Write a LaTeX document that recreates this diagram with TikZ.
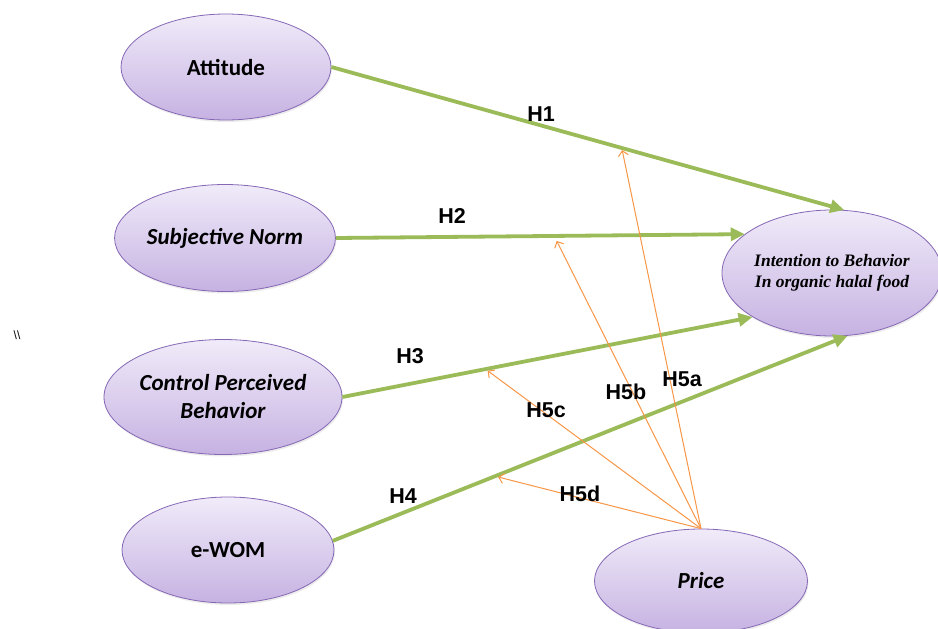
\documentclass[tikz,border=0pt]{standalone}
\usepackage{fontspec}
\setmainfont{Liberation Serif}
\newfontfamily\calib{Carlito}
\newfontfamily\arialf{Liberation Sans}
\usetikzlibrary{shapes.geometric,arrows.meta,shadows}
\definecolor{elltop}{HTML}{F0EBF9}
\definecolor{ellbot}{HTML}{C6B2E2}
\definecolor{ellline}{HTML}{8567B5}
\definecolor{grn}{HTML}{9BBB59}
\definecolor{org}{HTML}{F79646}
\tikzset{
  ell/.style={ellipse, draw=ellline, line width=0.8pt, top color=elltop, bottom color=ellbot,
    drop shadow={opacity=0.15, shadow xshift=1pt, shadow yshift=-2pt},
    inner sep=0pt, align=center, font=\calib\bfseries\fontsize{23}{27}\selectfont},
  garrow/.style={draw=grn, line width=3.8pt, -{Triangle[length=14pt,width=13pt]}},
  oarrow/.style={draw=org, line width=1pt, -{Straight Barb[length=5pt,width=10pt]}},
  hlab/.style={font=\arialf\bfseries\fontsize{21.5}{25}\selectfont, inner sep=0pt}
}
\begin{document}
\begin{tikzpicture}[x=1pt,y=-1pt]
\useasboundingbox (0,0) rectangle (938,629);
\node[ell, minimum width=210pt, minimum height=106pt] (att) at (226,67) {Attitude};
\node[ell, minimum width=214pt, minimum height=107pt] (sn) at (225,238) {\itshape Subjective Norm};
\node[ell, minimum width=238pt, minimum height=115pt] (cpb) at (223,397) {\itshape Control Perceived\\[1pt]\itshape Behavior};
\node[ell, minimum width=212pt, minimum height=106pt] (ewom) at (228,550) {e-WOM};
\node[ell, minimum width=212pt, minimum height=126pt, font=\rmfamily\bfseries\itshape\fontsize{17.5}{21}\selectfont] (itb) at (832,273) {Intention to Behavior\\In organic halal food};
\node[ell, minimum width=213pt, minimum height=104pt] (price) at (701,581) {\itshape Price};
\node[font=\arialf\fontsize{12}{14}\selectfont, inner sep=0pt] (bs) at (17,335) {\textbackslash\textbackslash};

\draw[garrow] (att.east) -- coordinate[pos=0.567] (t5a) (itb.79);
\draw[garrow] (sn.east) -- coordinate[pos=0.54] (t5b) (itb.156);
\draw[garrow] (cpb.east) -- coordinate[pos=0.354] (t5c) (itb.209);
\draw[garrow] (ewom.5) -- coordinate[pos=0.321] (t5d) (itb.284);

\draw[oarrow] (price.north) -- ([yshift=-2pt]t5a);
\draw[oarrow] (price.north) -- ([yshift=-5pt]t5b);
\draw[oarrow] (price.north) -- ([yshift=-2pt]t5c);
\draw[oarrow] (price.north) -- ([yshift=-2pt]t5d);

\node[hlab] (l1) at (541,114) {H1};
\node[hlab] (l2) at (452,216) {H2};
\node[hlab] (l3) at (410,356) {H3};
\node[hlab] (l4) at (403,496) {H4};
\node[hlab] (l5a) at (682,379) {H5a};
\node[hlab] (l5b) at (626,392) {H5b};
\node[hlab] (l5c) at (546,410) {H5c};
\node[hlab] (l5d) at (580,494) {H5d};
\end{tikzpicture}
\end{document}
